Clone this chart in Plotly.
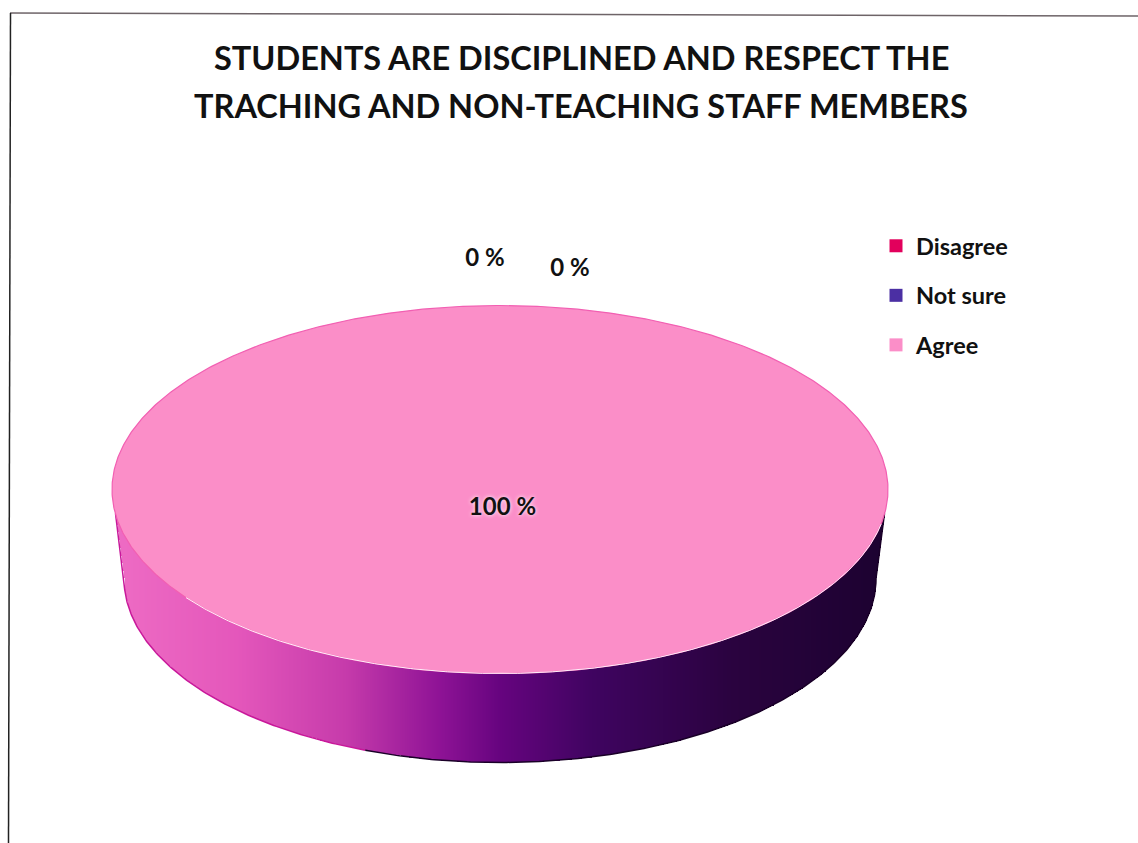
# -*- coding: utf-8 -*-
"""Flat 3D-looking pie (one full slice) drawn on a plain cartesian axis."""
import numpy as np
import plotly.graph_objects as go

TITLE_LINES = ["STUDENTS ARE DISCIPLINED AND RESPECT THE",
               "TRACHING AND NON-TEACHING STAFF MEMBERS"]
CATEGORIES = ["Disagree", "Not sure", "Agree"]
PERCENTS = [0, 0, 100]
COLORS = ["#e2005c", "#4b2fa3", "#fb8ec8"]

# pie shape, in units of the top radius
TILT = 184 / 388
DEPTH = 89 / 388
BASE_RADIUS = 376 / 388
# shading of the wall, left to right
WALL_SCALE = [[0, "#ee6cc4"], [0.16, "#e457bb"], [0.3, "#c63bab"],
              [0.42, "#8f1396"], [0.5, "#66047f"], [0.62, "#3f0460"],
              [0.8, "#2a033f"], [1, "#1c0230"]]

U = 388
x_range = [-500 / U, 638 / U]
y_range = [-(843 - 489.5) / U, 489.5 / U]

fig = go.Figure()

# wall: lower edge is the base ellipse, joined up to the rim at both ends
t = np.linspace(np.pi, 2 * np.pi, 361)
edge_x = np.concatenate([[-0.991], BASE_RADIUS * np.cos(t), [0.991]])
edge_y = np.concatenate([[-24 / U], TILT * np.sin(t) - DEPTH, [-24 / U]])
gx = np.linspace(-1, 1, 777)
gy = np.linspace(-DEPTH - TILT - 0.005, 0, 260)
low = np.interp(gx, edge_x, edge_y)
low[np.abs(gx) > 0.991] = np.nan
zz = np.where(gy[:, None] >= low[None, :], gx[None, :] * np.ones((260, 1)), np.nan)
fig.add_trace(go.Heatmap(x=gx, y=gy, z=zz, zmin=-1, zmax=1, colorscale=WALL_SCALE,
                         showscale=False, hoverinfo="skip"))
split = 140
fig.add_trace(go.Scatter(x=edge_x[:split], y=edge_y[:split], mode="lines",
                         line=dict(color="#c8189a", width=1.5),
                         showlegend=False, hoverinfo="skip"))
fig.add_trace(go.Scatter(x=edge_x[split - 1:], y=edge_y[split - 1:], mode="lines",
                         line=dict(color="#1a0028", width=1.5),
                         showlegend=False, hoverinfo="skip"))

# top face, one sector per non-zero slice
total = sum(PERCENTS)
start = np.pi / 2
for name, pct, color in zip(CATEGORIES, PERCENTS, COLORS):
    sweep = 2 * np.pi * pct / total
    if pct == 0:
        continue
    a = np.linspace(start, start - sweep, 721)
    fig.add_trace(go.Scatter(x=np.cos(a), y=TILT * np.sin(a), mode="lines",
                             fill="toself", fillcolor=color,
                             line=dict(color="#f25fb2", width=1.2),
                             showlegend=False, hoverinfo="skip"))
    start -= sweep

# light rim along the front of the top face
rim = np.linspace(np.pi * 1.2, np.pi * 1.94, 361)
fig.add_trace(go.Scatter(x=np.cos(rim), y=TILT * np.sin(rim), mode="lines",
                         line=dict(color="#fff0fa", width=1),
                         showlegend=False, hoverinfo="skip"))

# data labels
label_x = [(485 - 500) / U, (570 - 500) / U, (502.5 - 500) / U]
label_y = [(489.5 - 260) / U, (489.5 - 270) / U, (489.5 - 509) / U]
fig.add_trace(go.Scatter(x=label_x, y=label_y, mode="text",
                         text=[f"{p} %" for p in PERCENTS],
                         textfont=dict(family="Lato", size=24, color="#111111",
                                       weight="bold", shadow="0 0 4px #ffffff"),
                         showlegend=False, hoverinfo="skip"))

# legend only traces
for i, (name, color) in enumerate(zip(CATEGORIES, COLORS)):
    fig.add_trace(go.Scatter(x=[None], y=[None], mode="markers", name=name,
                             legendgroup=name,
                             marker=dict(symbol="square", size=13, color=color)))

title_font = dict(family="Lato", size=32.5, color="#111111", weight="bold")
fig.update_layout(
    width=1138, height=843, margin=dict(l=0, r=0, t=0, b=0),
    paper_bgcolor="#ffffff", plot_bgcolor="rgba(0,0,0,0)",
    xaxis=dict(range=x_range, visible=False, fixedrange=True),
    yaxis=dict(range=y_range, visible=False, fixedrange=True),
    legend=dict(x=876 / 1138, y=1 - 224 / 843, xanchor="left", yanchor="top",
                traceorder="grouped", tracegroupgap=16,
                font=dict(family="Lato", size=23.5, color="#111111", weight="bold"),
                bgcolor="rgba(0,0,0,0)"),
    annotations=[
        dict(text=TITLE_LINES[0], xref="paper", yref="paper", x=581.5 / 1138, y=1 - 57 / 843,
             yanchor="middle", showarrow=False, font=title_font),
        dict(text=TITLE_LINES[1], xref="paper", yref="paper", x=581 / 1138, y=1 - 105 / 843,
             yanchor="middle", showarrow=False, font=title_font),
    ],
    shapes=[
        dict(type="line", xref="paper", yref="paper", x0=10 / 1138, y0=1 - 13 / 843,
             x1=1, y1=1 - 16 / 843, line=dict(color="#6e6468", width=1.5)),
        dict(type="line", xref="paper", yref="paper", x0=10.5 / 1138, y0=1 - 13 / 843,
             x1=8.5 / 1138, y1=0, line=dict(color="#222222", width=1.5)),
    ],
)

fig.write_html("out.html", config=dict(displayModeBar=False),
               post_script="document.body.style.margin='0';")
